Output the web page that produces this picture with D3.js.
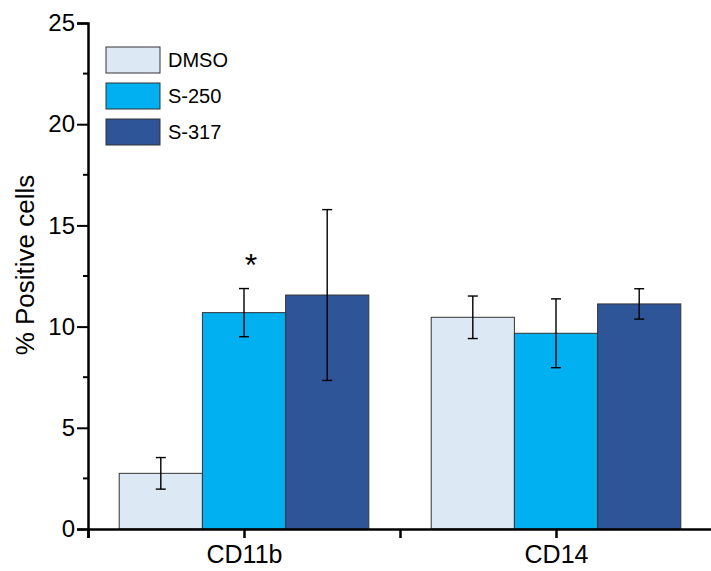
<!DOCTYPE html>
<html lang="en">
<head>
<meta charset="UTF-8">
<title>% Positive cells</title>
<script src="https://d3js.org/d3.v7.min.js"></script>
<style>
body {margin: 0; background: white;}
svg {display: block; font-family: "Liberation Sans", Arial, sans-serif;}
</style>
</head>
<body>
<svg width="711" height="571"></svg>
<script>
// data
const markers = ["CD11b", "CD14"];
const treatments = ["DMSO", "S-250", "S-317"];
const colors = ["#dde8f5", "#00b0f0", "#2e5597"];
const means = {
  "CD11b": [2.75, 10.69, 11.56],
  "CD14": [10.46, 9.67, 11.12]
};
const errs = {
  "CD11b": [0.78, 1.19, 4.22],
  "CD14": [1.05, 1.7, 0.75]
};
const stars = {"CD11b": ["", "*", ""], "CD14": ["", "", ""]};
const yTicks = [0, 5, 10, 15, 20, 25];
const yMinor = [2.5, 7.5, 12.5, 17.5, 22.5];
const groupPos = [1, 3];   // category positions on the x axis

const svg = d3.select("svg");

const x = d3.scaleLinear().domain([0, 4]).range([88, 712]);
const y = d3.scaleLinear().domain([0, 25]).range([529, 23]);
const xb = d3.scaleBand().domain(treatments).range([0, x(1.8) - x(0.2)]);
const color = d3.scaleOrdinal().domain(treatments).range(colors);

// bars
markers.forEach(function(m, gi) {
  const g = svg.append("g")
    .attr("transform", "translate(" + x(groupPos[gi] - 0.8) + ",0)");
  const rows = treatments.map(function(t, i) {
    return {t: t, v: means[m][i], e: errs[m][i], s: stars[m][i]};
  });
  g.selectAll("rect").data(rows).enter().append("rect")
    .attr("x", d => xb(d.t))
    .attr("y", d => y(d.v))
    .attr("width", xb.bandwidth())
    .attr("height", d => y(0) - y(d.v))
    .attr("fill", d => color(d.t))
    .attr("stroke", "#333")
    .attr("stroke-width", 1);

  const eb = g.selectAll("g.err").data(rows).enter().append("g")
    .attr("class", "err")
    .attr("stroke", "black")
    .attr("stroke-width", 1.4);
  eb.append("line")
    .attr("x1", d => xb(d.t) + xb.bandwidth() / 2)
    .attr("x2", d => xb(d.t) + xb.bandwidth() / 2)
    .attr("y1", d => y(d.v + d.e))
    .attr("y2", d => y(d.v - d.e));
  eb.append("line")
    .attr("x1", d => xb(d.t) + xb.bandwidth() / 2 - 5)
    .attr("x2", d => xb(d.t) + xb.bandwidth() / 2 + 5)
    .attr("y1", d => y(d.v + d.e))
    .attr("y2", d => y(d.v + d.e));
  eb.append("line")
    .attr("x1", d => xb(d.t) + xb.bandwidth() / 2 - 5)
    .attr("x2", d => xb(d.t) + xb.bandwidth() / 2 + 5)
    .attr("y1", d => y(d.v - d.e))
    .attr("y2", d => y(d.v - d.e));

  g.selectAll("text.star").data(rows.filter(d => d.s)).enter().append("text")
    .attr("class", "star")
    .attr("x", d => xb(d.t) + xb.bandwidth() / 2 + 7)
    .attr("y", d => y(d.v + d.e) - 13)
    .attr("text-anchor", "middle")
    .attr("font-size", 32)
    .text(d => d.s);
});

// y axis
const yAxis = svg.append("g")
  .attr("transform", "translate(" + x(0) + ",0)")
  .call(d3.axisLeft(y).tickValues(yTicks).tickSize(11).tickPadding(2));
yAxis.append("g").selectAll("line").data(yMinor).enter().append("line")
  .attr("x1", -5).attr("x2", 0)
  .attr("y1", d => y(d)).attr("y2", d => y(d))
  .attr("stroke", "black");
yAxis.selectAll("text").attr("font-size", 24).attr("fill", "black");

// x axis
const xAxis = svg.append("g")
  .attr("transform", "translate(0," + y(0) + ")")
  .call(d3.axisBottom(x).tickValues([0, 1, 2, 3, 4]).tickSize(9)
    .tickFormat(function(d) {
      const i = groupPos.indexOf(d);
      return i >= 0 ? markers[i] : "";
    }).tickPadding(7));
xAxis.selectAll("text").attr("font-size", 25).attr("fill", "black");

[yAxis, xAxis].forEach(function(a) {
  a.attr("font-family", null);
  a.select(".domain").attr("stroke-width", 2.5);
  a.selectAll("line").attr("stroke-width", 2.5);
});
yAxis.selectAll("g > g > line").attr("stroke-width", 2);

// axis title
svg.append("text")
  .attr("transform", "translate(34,265) rotate(-90)")
  .attr("text-anchor", "middle")
  .attr("font-size", 26)
  .text("% Positive cells");

// legend
const leg = svg.append("g").selectAll("g").data(treatments).enter().append("g")
  .attr("transform", (d, i) => "translate(106," + (47 + i * 36) + ")");
leg.append("rect")
  .attr("width", 54).attr("height", 26)
  .attr("fill", d => color(d))
  .attr("stroke", "#333");
leg.append("text")
  .attr("x", 62).attr("y", 13).attr("dy", "0.36em")
  .attr("font-size", 20)
  .text(d => d);
</script>
</body>
</html>
